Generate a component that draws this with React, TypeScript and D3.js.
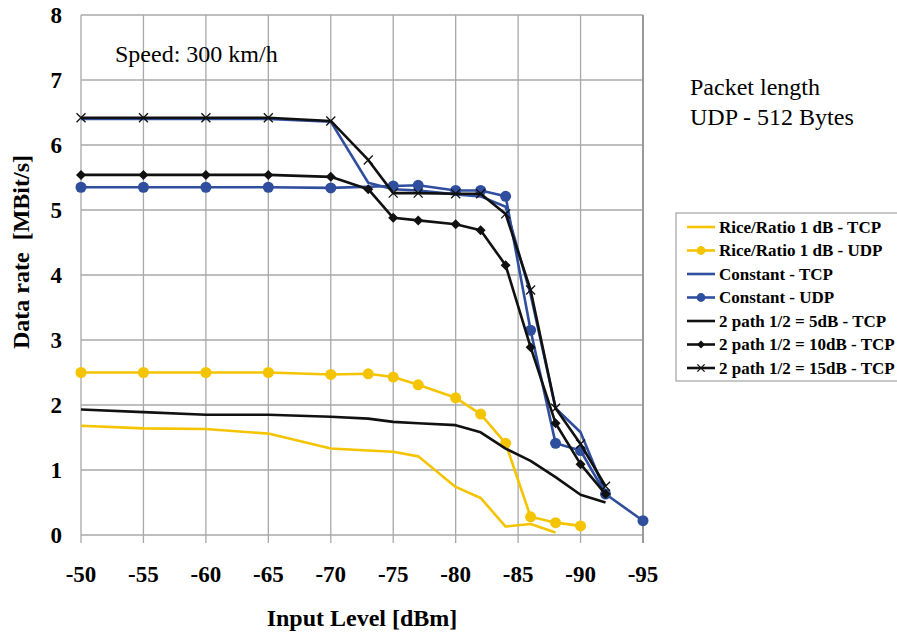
import React from 'react';
import * as d3 from 'd3';

// x positions (dBm) and values (MBit/s)
const xRiceTcp = [-50, -55, -60, -65, -70, -73, -75, -77, -80, -82, -84, -86, -88];
const riceTcp = [1.68, 1.64, 1.63, 1.56, 1.33, 1.3, 1.28, 1.21, 0.74, 0.57, 0.13, 0.17, 0.04];

const xRiceUdp = [-50, -55, -60, -65, -70, -73, -75, -77, -80, -82, -84, -86, -88, -90];
const riceUdp = [2.5, 2.5, 2.5, 2.5, 2.47, 2.48, 2.43, 2.31, 2.11, 1.86, 1.41, 0.28, 0.19, 0.14];

const xConstTcp = [-50, -55, -60, -65, -70, -73, -75, -77, -80, -82, -84, -86, -88, -90, -92];
const constTcp = [6.4, 6.4, 6.4, 6.4, 6.36, 5.42, 5.32, 5.3, 5.24, 5.21, 5.05, 3.7, 1.95, 1.58, 0.65];

const xConstUdp = [-50, -55, -60, -65, -70, -75, -77, -80, -82, -84, -86, -88, -90, -92, -95];
const constUdp = [5.35, 5.35, 5.35, 5.35, 5.34, 5.37, 5.38, 5.3, 5.3, 5.21, 3.15, 1.41, 1.3, 0.63, 0.22];

const xPath = [-50, -55, -60, -65, -70, -73, -75, -77, -80, -82, -84, -86, -88, -90, -92];
const path5 = [1.93, 1.89, 1.85, 1.85, 1.82, 1.79, 1.74, 1.72, 1.69, 1.58, 1.33, 1.14, 0.89, 0.62, 0.5];
const path10 = [5.54, 5.54, 5.54, 5.54, 5.51, 5.32, 4.88, 4.84, 4.78, 4.69, 4.15, 2.89, 1.72, 1.09, 0.63];
const path15 = [6.42, 6.42, 6.42, 6.42, 6.37, 5.77, 5.26, 5.26, 5.25, 5.25, 4.94, 3.77, 1.95, 1.4, 0.75];

const xTicks = [-50, -55, -60, -65, -70, -75, -80, -85, -90, -95];
const yTicks = [0, 1, 2, 3, 4, 5, 6, 7, 8];

const YELLOW = '#f5c400';
const BLUE = '#2f4f9e';
const BLACK = '#111111';

type Marker = 'none' | 'circle' | 'diamond' | 'cross';
interface Series {
  name: string;
  xs: number[];
  ys: number[];
  color: string;
  marker: Marker;
}

const series: Series[] = [
  { name: 'Rice/Ratio 1 dB - TCP', xs: xRiceTcp, ys: riceTcp, color: YELLOW, marker: 'none' },
  { name: 'Rice/Ratio 1 dB - UDP', xs: xRiceUdp, ys: riceUdp, color: YELLOW, marker: 'circle' },
  { name: 'Constant - TCP', xs: xConstTcp, ys: constTcp, color: BLUE, marker: 'none' },
  { name: 'Constant - UDP', xs: xConstUdp, ys: constUdp, color: BLUE, marker: 'circle' },
  { name: '2 path 1/2 = 5dB - TCP', xs: xPath, ys: path5, color: BLACK, marker: 'none' },
  { name: '2 path 1/2 = 10dB - TCP', xs: xPath, ys: path10, color: BLACK, marker: 'diamond' },
  { name: '2 path 1/2 = 15dB - TCP', xs: xPath, ys: path15, color: BLACK, marker: 'cross' },
];

const W = 897;
const H = 634;
const FONT = 'Liberation Serif, DejaVu Serif, serif';

const x = d3.scaleLinear().domain([-50, -95]).range([81, 643]);
const y = d3.scaleLinear().domain([0, 8]).range([535, 15]);

const drawMarker = (m: Marker, cx: number, cy: number, color: string, key: string | number, size = 1) => {
  if (m === 'circle') return <circle key={key} cx={cx} cy={cy} r={5.5 * size} fill={color} />;
  if (m === 'diamond') {
    const s = 5 * size;
    return <path key={key} d={`M${cx},${cy - s}L${cx + s},${cy}L${cx},${cy + s}L${cx - s},${cy}Z`} fill={color} />;
  }
  if (m === 'cross') {
    const s = 4.5 * size;
    return (
      <path key={key} d={`M${cx - s},${cy - s}L${cx + s},${cy + s}M${cx - s},${cy + s}L${cx + s},${cy - s}`}
        stroke={color} strokeWidth={1.3} fill="none" />
    );
  }
  return null;
};

export default function App() {
  const line = d3.line<[number, number]>().x(d => x(d[0])).y(d => y(d[1]));
  const txt = { fontFamily: FONT };

  return (
    <svg width={W} height={H} style={{ display: 'block', position: 'absolute', left: 0, top: 0, background: '#fff', fontFamily: FONT }}>
      {/* grid */}
      {xTicks.map(t => (
        <line key={'gx' + t} x1={x(t)} x2={x(t)} y1={y(8)} y2={y(0) + 8} stroke="#a8a8a8" strokeWidth={1.3} />
      ))}
      {yTicks.map(t => (
        <line key={'gy' + t} x1={x(-50)} x2={x(-95)} y1={y(t)} y2={y(t)} stroke="#a8a8a8" strokeWidth={1.3} />
      ))}
      <line x1={x(-95)} x2={x(-95)} y1={y(8)} y2={y(0) + 8} stroke="#999" strokeWidth={2} />

      {/* tick labels */}
      {yTicks.map(t => (
        <text key={'ly' + t} style={txt} x={62} y={y(t)} dy="0.35em" textAnchor="end" fontSize={23} fontWeight="bold">{t}</text>
      ))}
      {xTicks.map(t => (
        <text key={'lx' + t} style={txt} x={x(t)} y={582} textAnchor="middle" fontSize={23} fontWeight="bold">{t}</text>
      ))}

      <text style={txt} x={362} y={626} textAnchor="middle" fontSize={24} fontWeight="bold">Input Level [dBm]</text>
      <text style={{ ...txt, whiteSpace: 'pre' }} transform="translate(29,252) rotate(-90)" textAnchor="middle"
        fontSize={24} fontWeight="bold">{'Data rate  [MBit/s]'}</text>

      <text style={txt} x={115} y={62} fontSize={24}>Speed: 300 km/h</text>
      <text style={txt} x={690} y={95} fontSize={24}>Packet length</text>
      <text style={txt} x={690} y={125} fontSize={24}>UDP - 512 Bytes</text>

      {/* series */}
      {series.map(s => {
        const pts = s.xs.map((v, i) => [v, s.ys[i]] as [number, number]);
        return (
          <g key={s.name}>
            <path d={line(pts) || ''} fill="none" stroke={s.color} strokeWidth={2.6} strokeLinejoin="round" />
            {pts.map((p, i) => drawMarker(s.marker, x(p[0]), y(p[1]), s.color, i))}
          </g>
        );
      })}

      {/* legend */}
      <rect x={676} y={213} width={240} height={168} fill="#fff" stroke="#aaa" strokeWidth={1.3} />
      {series.map((s, i) => {
        const cy = 227 + i * 23.5;
        return (
          <g key={'lg' + s.name}>
            <line x1={687} x2={715} y1={cy} y2={cy} stroke={s.color} strokeWidth={2.6} />
            {drawMarker(s.marker, 701, cy, s.color, 'm', 0.8)}
            <text style={txt} x={719} y={cy} dy="0.35em" fontSize={17} fontWeight="bold">{s.name}</text>
          </g>
        );
      })}
    </svg>
  );
}
